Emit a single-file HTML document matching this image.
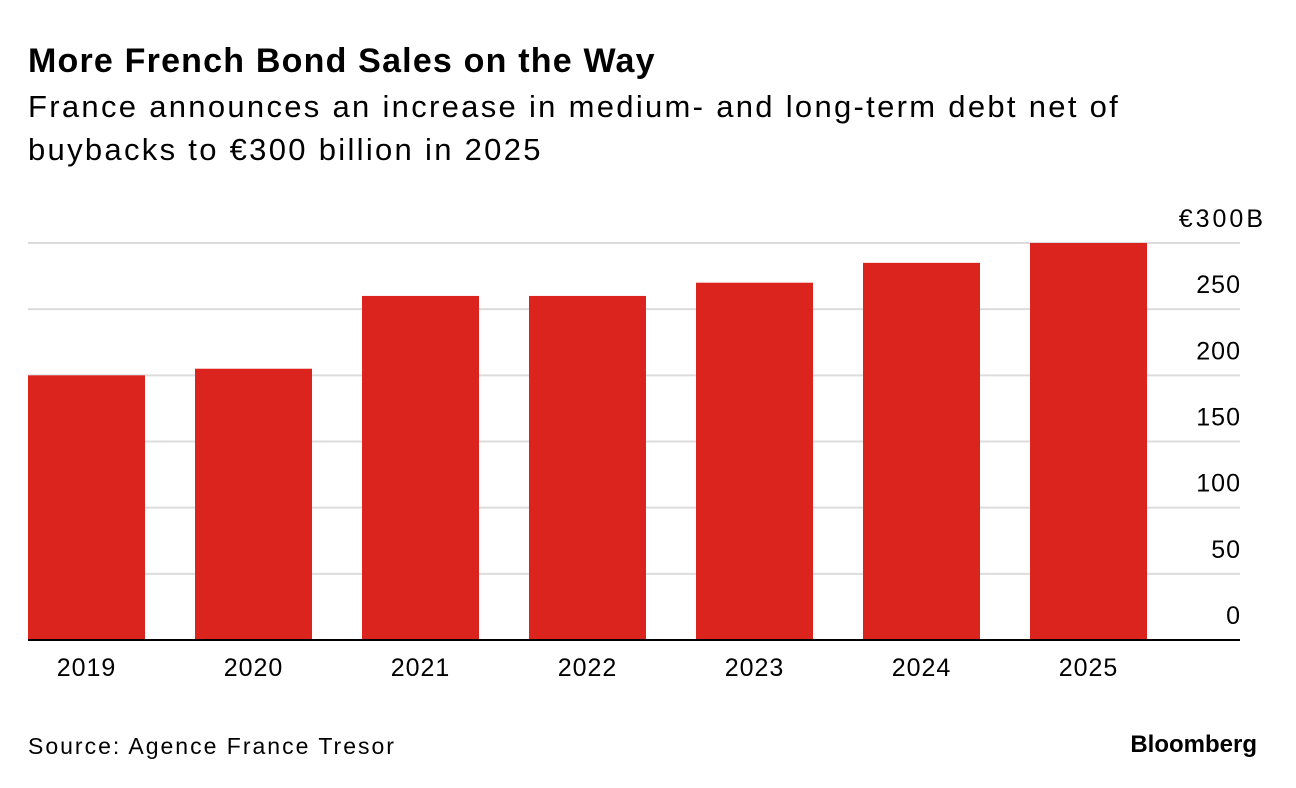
<!DOCTYPE html>
<html><head><meta charset="utf-8">
<style>
body{margin:0;background:#fff;width:1296px;height:788px;overflow:hidden;font-family:"Liberation Sans",sans-serif;color:#000}
.t{position:absolute;white-space:nowrap}
</style></head><body>
<div class="t" style="left:28px;top:42px;font-size:34px;font-weight:bold;letter-spacing:1.2px">More French Bond Sales on the Way</div>
<div class="t" style="left:28px;top:85px;font-size:31px;line-height:43px;letter-spacing:2.3px">France announces an increase in medium- and long-term debt net of<br>buybacks to €300 billion in 2025</div>
<svg id="chart" width="1296" height="720" style="position:absolute;left:0;top:0"></svg>
<div class="t" style="left:28px;top:733px;font-size:23px;letter-spacing:2px">Source: Agence France Tresor</div>
<div class="t" style="right:39px;top:731px;font-size:24px;font-weight:bold;letter-spacing:0px">Bloomberg</div>
<script>
const categories=["2019","2020","2021","2022","2023","2024","2025"];
const values=[200,205,260,260,270,285,300];
const ticks=[0,50,100,150,200,250,300];
const tickLabels=["0","50","100","150","200","250","€300B"];
const NS="http://www.w3.org/2000/svg";
const svg=document.getElementById('chart');
const y0=640,y1=243,vmax=300;
const y=v=>y0-(v/vmax)*(y0-y1);
const x=i=>28+i*167;
const bw=117;
function mk(t,a){const e=document.createElementNS(NS,t);for(const k in a)e.setAttribute(k,a[k]);svg.appendChild(e);return e;}
ticks.forEach((v,i)=>{
  if(v>0){const l=mk('line',{x1:28,x2:1240,y1:y(v),y2:y(v),stroke:'#dcdcdc','stroke-width':2});
  
  }
  const last=i===ticks.length-1;
  const t=mk('text',{x:last?1266:1241,y:y(v)-16,'text-anchor':'end','font-size':25,'letter-spacing':last?3:1,'font-family':'Liberation Sans, sans-serif'});
  t.textContent=tickLabels[i];
  
  
});
values.forEach((v,i)=>{
  const r=mk('rect',{x:x(i),y:y(v),width:bw,height:y0-y(v),fill:'#dc241f'});
  
  
  const t=mk('text',{x:x(i)+bw/2,y:676,'text-anchor':'middle','font-size':25,'letter-spacing':1,'font-family':'Liberation Sans, sans-serif'});
  t.textContent=categories[i];
  
  
});
const b=mk('line',{x1:28,x2:1240,y1:y0,y2:y0,stroke:'#000','stroke-width':2});


</script>
</body></html>
